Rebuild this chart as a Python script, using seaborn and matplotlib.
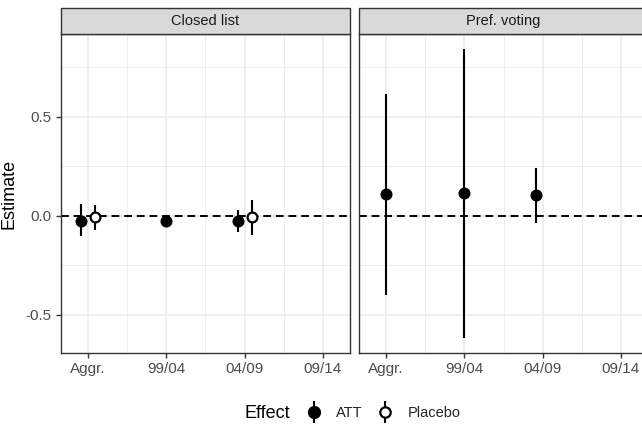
import numpy as np
import pandas as pd
import matplotlib
matplotlib.use("Agg")
import matplotlib.pyplot as plt
from matplotlib.patches import Rectangle
from matplotlib.lines import Line2D
from matplotlib.legend_handler import HandlerTuple
import seaborn as sns

# Data
periods = ["Aggr.", "99/04", "04/09", "09/14"]
panels = ["Closed list", "Pref. voting"]

# None = no row at that period, nan = row present but not estimated
closed_att_est = [-0.024, -0.024, -0.024, None]
closed_att_lo = [-0.100, -0.030, -0.079, None]
closed_att_hi = [0.060, -0.018, 0.030, None]
closed_pla_est = [-0.007, None, -0.007, None]
closed_pla_lo = [-0.071, None, -0.096, None]
closed_pla_hi = [0.057, None, 0.081, None]

pref_att_est = [0.110, 0.115, 0.106, None]
pref_att_lo = [-0.399, -0.615, -0.034, None]
pref_att_hi = [0.615, 0.842, 0.241, None]
pref_pla_est = [None, None, np.nan, None]
pref_pla_lo = [None, None, np.nan, None]
pref_pla_hi = [None, None, np.nan, None]

series = {
    ("Closed list", "ATT"): (closed_att_est, closed_att_lo, closed_att_hi),
    ("Closed list", "Placebo"): (closed_pla_est, closed_pla_lo, closed_pla_hi),
    ("Pref. voting", "ATT"): (pref_att_est, pref_att_lo, pref_att_hi),
    ("Pref. voting", "Placebo"): (pref_pla_est, pref_pla_lo, pref_pla_hi),
}

rows = []
for (panel, effect), (est, lo, hi) in series.items():
    for i, p in enumerate(periods):
        if est[i] is None:
            continue
        rows.append(dict(panel=panel, effect=effect, period=p, pos=i + 1,
                         estimate=est[i], lower=lo[i], upper=hi[i]))
df = pd.DataFrame(rows)

# dodge like ggplot position_dodge: only where both groups have a row
dodge = 0.09
n_groups = df.groupby(["panel", "period"])["effect"].transform("count")
sign = np.where(df["effect"] == "ATT", -1, 1)
df["x"] = df["pos"] + np.where(n_groups > 1, sign * dodge, 0.0)

sns.set_theme(style="white")
plt.rcParams["font.family"] = ["Liberation Sans", "DejaVu Sans"]

W, H = 642, 424
fig = plt.figure(figsize=(W / 100, H / 100), dpi=100)
grey20 = "#333333"
grey30 = "#4D4D4D"

panel_top, panel_bot = 34, 353
panel_lefts = [61, 359]
panel_w = 289
axes = []
for k, left in enumerate(panel_lefts):
    ax = fig.add_axes([left / W, 1 - panel_bot / H, panel_w / W,
                       (panel_bot - panel_top) / H])
    axes.append(ax)

for ax, panel in zip(axes, panels):
    ax.set_facecolor("white")
    ax.set_xlim(0.654, 4.346)
    ax.set_ylim(-0.692, 0.919)
    ax.set_xticks(range(1, 5))
    ax.set_xticks([1.5, 2.5, 3.5], minor=True)
    ax.set_yticks([-0.5, 0.0, 0.5])
    ax.set_yticks([-0.25, 0.25, 0.75], minor=True)
    ax.grid(which="major", color="#EBEBEB", linewidth=1.1)
    ax.grid(which="minor", color="#EBEBEB", linewidth=0.6)
    ax.set_axisbelow(True)
    for s in ax.spines.values():
        s.set_color(grey20)
        s.set_linewidth(1.0)
        s.set_visible(True)

    ax.axhline(0, color="black", linewidth=1.4, dashes=(4, 2.5), zorder=2)

    sub = df[(df["panel"] == panel)].dropna(subset=["estimate"])
    att = sub[sub["effect"] == "ATT"]
    pla = sub[sub["effect"] == "Placebo"]
    ax.vlines(att["x"], att["lower"], att["upper"], color="black",
              linewidth=1.5, zorder=3)
    ax.vlines(pla["x"], pla["lower"], pla["upper"], color="black",
              linewidth=1.5, zorder=3)
    if len(att):
        sns.scatterplot(data=att, x="x", y="estimate", ax=ax, color="black",
                        s=75, edgecolor="black", linewidth=0, zorder=4,
                        legend=False)
    if len(pla):
        sns.scatterplot(data=pla, x="x", y="estimate", ax=ax, color="white",
                        s=50, edgecolor="black", linewidth=1.6, zorder=4,
                        legend=False)

    ax.set_xticklabels(periods)
    ax.set_xlabel("")
    ax.set_ylabel("")
    ax.tick_params(axis="both", which="major", length=3.5, width=1.0,
                   color=grey20, labelcolor=grey30, labelsize=11, pad=3,
                   bottom=True, left=True)
    ax.tick_params(which="minor", length=0)

    # facet strip
    strip_h = 26 / (panel_bot - panel_top)
    ax.add_patch(Rectangle((0, 1), 1, strip_h, transform=ax.transAxes,
                           facecolor="#D9D9D9", edgecolor=grey20,
                           linewidth=1.0, clip_on=False, zorder=5))
    ax.text(0.5, 1 + strip_h / 2, panel, transform=ax.transAxes,
            ha="center", va="center", fontsize=10.5, color="#1A1A1A",
            zorder=6)

axes[0].set_yticklabels(["-0.5", "0.0", "0.5"])
axes[1].tick_params(axis="y", left=False, labelleft=False)
axes[0].set_ylabel("Estimate", fontsize=13, color="black", labelpad=6)

# legend at the bottom: vertical bar drawn through the point
handles = [
    (Line2D([], [], color="black", marker="|", markersize=16, linestyle="None",
            markeredgewidth=1.5),
     Line2D([], [], color="black", marker="o", markersize=8.5,
            linestyle="None")),
    (Line2D([], [], color="black", marker="|", markersize=16, linestyle="None",
            markeredgewidth=1.5),
     Line2D([], [], color="black", marker="o", markersize=7.5,
            markerfacecolor="white", markeredgewidth=1.6, linestyle="None")),
]
leg = fig.legend(handles, ["ATT", "Placebo"], ncol=2, frameon=False,
                 handler_map={tuple: HandlerTuple(ndivide=1, pad=0)},
                 loc="center left", bbox_to_anchor=(291 / W, 1 - 413 / H),
                 fontsize=10.5, handlelength=1.3, columnspacing=0.85,
                 handletextpad=0.9)
fig.text(244 / W, 1 - 413 / H, "Effect", fontsize=13, ha="left",
         va="center", color="black")

fig.savefig("out.png", dpi=100)
